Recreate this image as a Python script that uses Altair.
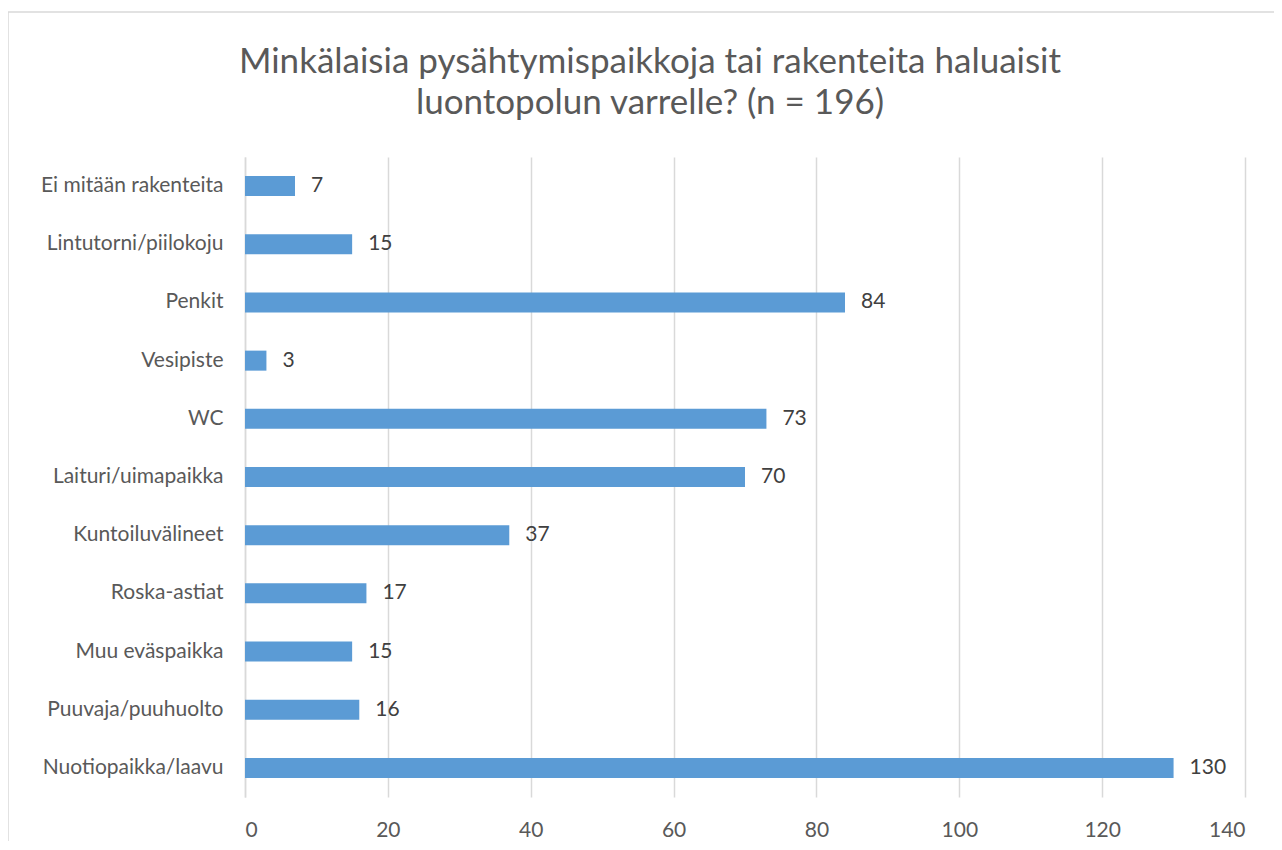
import altair as alt
import pandas as pd

categories = [
    "Ei mitään rakenteita",
    "Lintutorni/piilokoju",
    "Penkit",
    "Vesipiste",
    "WC",
    "Laituri/uimapaikka",
    "Kuntoiluvälineet",
    "Roska-astiat",
    "Muu eväspaikka",
    "Puuvaja/puuhuolto",
    "Nuotiopaikka/laavu",
]
values = [7, 15, 84, 3, 73, 70, 37, 17, 15, 16, 130]
x_ticks = [0, 20, 40, 60, 80, 100, 120, 140]
title_lines = ["Minkälaisia pysähtymispaikkoja tai rakenteita haluaisit",
               "luontopolun varrelle? (n = 196)"]

FONT = "Lato"
GRID = "#d9d9d9"

df = pd.DataFrame({"category": categories, "value": values})

base = alt.Chart(df).encode(
    y=alt.Y(
        "category:N",
        sort=categories,
        scale=alt.Scale(paddingInner=0.656, paddingOuter=0.328),
        axis=alt.Axis(
            title=None, labelFontSize=21, labelColor="#595959", labelFont=FONT,
            labelPadding=22, labelLimit=400, ticks=False, domainColor=GRID,
            domainWidth=1.5,
        ),
    ),
    x=alt.X(
        "value:Q",
        scale=alt.Scale(domain=[0, 140], nice=False),
        axis=alt.Axis(
            values=x_ticks, title=None, grid=True, gridColor=GRID, gridWidth=1.5,
            domain=False, ticks=False, labelFontSize=21, labelColor="#595959",
            labelFont=FONT, labelPadding=22,
        ),
    ),
)

bars = base.mark_bar(color="#5b9bd5")
labels = base.mark_text(align="left", baseline="middle", dx=16, fontSize=21,
                        color="#404040", font=FONT).encode(text="value:Q")

one = pd.DataFrame({"k": [0]})

# chart-area frame (decorative border like the Excel chart area)
frame_top = alt.Chart(one).mark_rule(color=GRID, strokeWidth=1.5).encode(
    x=alt.value(-237), x2=alt.value(1040), y=alt.value(-145)
)
frame_left = alt.Chart(one).mark_rule(color=GRID, strokeWidth=1.5).encode(
    x=alt.value(-237), y=alt.value(-145), y2=alt.value(700)
)

# two-line chart title, centred on the whole chart area
title1 = alt.Chart(one).mark_text(
    fontSize=35, font=FONT, color="#595959", align="center", baseline="middle"
).encode(x=alt.value(405), y=alt.value(-95), text=alt.value(title_lines[0]))
title2 = alt.Chart(one).mark_text(
    fontSize=35, font=FONT, color="#595959", align="center", baseline="middle"
).encode(x=alt.value(405), y=alt.value(-54), text=alt.value(title_lines[1]))

chart = (
    alt.layer(frame_top, frame_left, title1, title2, bars, labels)
    .properties(
        width=1000,
        height=640,
        autosize=alt.AutoSizeParams(type="none"),
        padding={"left": 237, "top": 149, "right": 29, "bottom": 44},
    )
    .configure(background="white")
    .configure_view(strokeWidth=0, stroke="transparent")
)

chart.save("out.html", embed_options={"renderer": "svg", "actions": False})
